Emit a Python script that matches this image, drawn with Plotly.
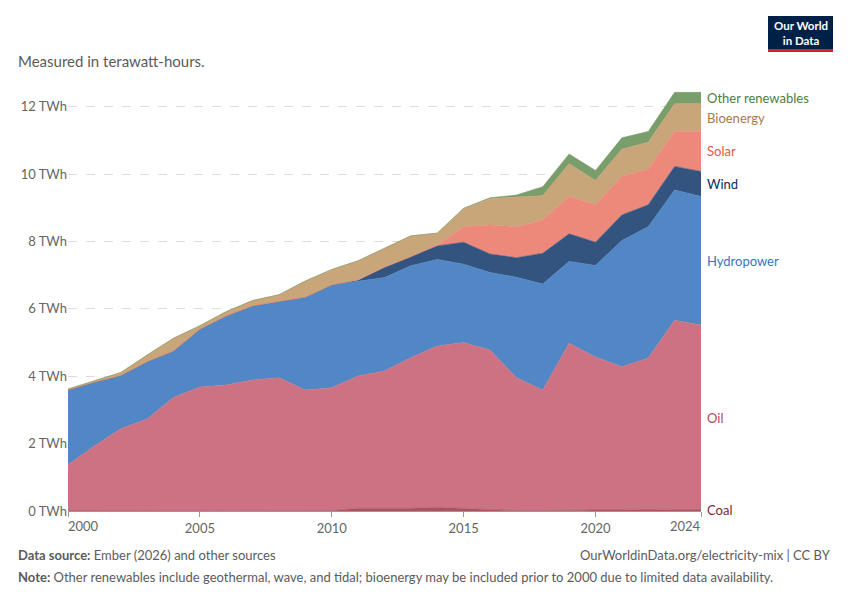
import plotly.graph_objects as go

years = list(range(2000, 2025))
coal = [0, 0, 0, 0, 0, 0, 0, 0, 0, 0, 0.01, 0.08, 0.08, 0.08, 0.11, 0.08, 0.03, 0.01, 0.01, 0.03, 0.03, 0.03, 0.05, 0.03, 0.03]
oil = [1.37, 1.93, 2.44, 2.73, 3.37, 3.68, 3.74, 3.89, 3.96, 3.59, 3.65, 3.93, 4.08, 4.47, 4.79, 4.92, 4.75, 3.95, 3.58, 4.95, 4.54, 4.25, 4.49, 5.63, 5.49]
hydro = [2.22, 1.89, 1.58, 1.70, 1.38, 1.72, 2.05, 2.20, 2.26, 2.76, 3.05, 2.80, 2.77, 2.73, 2.57, 2.33, 2.30, 2.98, 3.15, 2.43, 2.72, 3.75, 3.90, 3.87, 3.82]
wind = [0, 0, 0, 0, 0, 0, 0, 0, 0, 0, 0, 0.05, 0.31, 0.27, 0.40, 0.65, 0.55, 0.58, 0.91, 0.82, 0.69, 0.76, 0.65, 0.70, 0.74]
solar = [0, 0, 0, 0, 0, 0, 0, 0, 0, 0, 0, 0, 0, 0, 0.03, 0.46, 0.86, 0.92, 0.99, 1.11, 1.11, 1.15, 1.06, 1.04, 1.19]
bio = [0.03, 0.05, 0.09, 0.20, 0.38, 0.10, 0.13, 0.16, 0.20, 0.48, 0.46, 0.57, 0.56, 0.62, 0.35, 0.53, 0.79, 0.88, 0.72, 0.97, 0.72, 0.80, 0.80, 0.82, 0.82]
other = [0, 0, 0, 0, 0, 0, 0, 0, 0, 0, 0, 0, 0, 0, 0, 0.02, 0.02, 0.06, 0.27, 0.29, 0.30, 0.34, 0.32, 0.34, 0.34]

y_ticks = [0, 2, 4, 6, 8, 10, 12]
y_tick_labels = ["0 TWh", "2 TWh", "4 TWh", "6 TWh", "8 TWh", "10 TWh", "12 TWh"]
x_ticks = [2000, 2005, 2010, 2015, 2020, 2024]

series = [
    ("Coal", coal, "#a85560", "#7b2a33"),
    ("Oil", oil, "#cc7282", "#b4495c"),
    ("Hydropower", hydro, "#5287c6", "#3a73c0"),
    ("Wind", wind, "#33547f", "#0b2d5c"),
    ("Solar", solar, "#ec897a", "#e0584a"),
    ("Bioenergy", bio, "#c9a57a", "#a8794a"),
    ("Other renewables", other, "#7a9e6b", "#4e7e3e"),
]

# page body has an 8px margin; work in window pixels and offset
OFF = 8
W, H = 850 - OFF, 600 - OFF
L, R, T, B = 68 - OFF, 701 - OFF, 90 - OFF, 511 - OFF


def px(x):
    return (x - OFF - L) / (R - L)


def py(y):
    return (B - (y - OFF)) / (B - T)


fig = go.Figure()
for name, vals, fill, _ in series:
    fig.add_trace(go.Scatter(
        x=years, y=vals, name=name, stackgroup="one", mode="lines",
        line=dict(width=0.6, color=fill), fillcolor=fill, hoverinfo="skip",
    ))

annotations = []
cum = 0.0
for name, vals, fill, lab in series:
    mid = cum + vals[-1] / 2
    cum += vals[-1]
    annotations.append(dict(
        x=years[-1], y=mid, xref="x", yref="y", text=name, showarrow=False,
        xanchor="left", yanchor="middle", xshift=4,
        font=dict(family="Lato", size=13, color=lab),
    ))

annotations.append(dict(x=x_ticks[0], y=0, xref="x", yref="y", text=str(x_ticks[0]),
                        showarrow=False, xanchor="left", yanchor="top", yshift=-5, xshift=-2,
                        font=dict(family="Lato", size=13, color="#666")))
annotations.append(dict(x=x_ticks[-1], y=0, xref="x", yref="y", text=str(x_ticks[-1]),
                        showarrow=False, xanchor="right", yanchor="top", yshift=-5, xshift=2,
                        font=dict(family="Lato", size=13, color="#666")))

annotations += [
    dict(x=px(16), y=py(61), xref="paper", yref="paper", text="Measured in terawatt-hours.",
         showarrow=False, xanchor="left", yanchor="middle",
         font=dict(family="Lato", size=15, color="#5b5b5b")),
    dict(x=px(16), y=py(555), xref="paper", yref="paper",
         text="<b>Data source:</b> Ember (2026) and other sources",
         showarrow=False, xanchor="left", yanchor="middle",
         font=dict(family="Lato", size=13, color="#5b5b5b")),
    dict(x=px(833), y=py(555), xref="paper", yref="paper",
         text="OurWorldinData.org/electricity-mix | CC BY",
         showarrow=False, xanchor="right", yanchor="middle",
         font=dict(family="Lato", size=13, color="#5b5b5b")),
    dict(x=px(16), y=py(577), xref="paper", yref="paper",
         text="<b>Note:</b> Other renewables include geothermal, wave, and tidal; bioenergy may be included prior to 2000 due to limited data availability.",
         showarrow=False, xanchor="left", yanchor="middle",
         font=dict(family="Lato", size=13, color="#5b5b5b")),
    dict(x=px(800.5), y=py(33), xref="paper", yref="paper",
         text="<b>Our World<br>in Data</b>", showarrow=False,
         xanchor="center", yanchor="middle", align="center",
         font=dict(family="Lato", size=11.5, color="white")),
]

shapes = [
    dict(type="rect", xref="paper", yref="paper", x0=px(768), x1=px(833), y0=py(52), y1=py(16),
         fillcolor="#002147", line=dict(width=0), layer="above"),
    dict(type="rect", xref="paper", yref="paper", x0=px(768), x1=px(833), y0=py(52), y1=py(49),
         fillcolor="#ce261e", line=dict(width=0), layer="above"),
]

fig.update_layout(
    width=W, height=H,
    margin=dict(l=L, r=W - R, t=T, b=H - B),
    paper_bgcolor="white", plot_bgcolor="white",
    showlegend=False,
    font=dict(family="Lato", color="#666"),
    annotations=annotations, shapes=shapes,
    xaxis=dict(
        range=[2000, 2024], tickvals=x_ticks,
        ticktext=[""] + [str(v) for v in x_ticks[1:-1]] + [""],
        ticks="outside", ticklen=5, tickcolor="#999", showgrid=False,
        showline=True, linecolor="#999", linewidth=1,
        tickfont=dict(family="Lato", size=13, color="#666"), zeroline=False,
    ),
    yaxis=dict(
        range=[0, 12.5], tickvals=y_ticks, ticktext=y_tick_labels,
        showgrid=True, gridcolor="#dddddd", griddash="dash", gridwidth=1,
        zeroline=False, showline=False, ticks="",
        tickfont=dict(family="Lato", size=13, color="#666"),
    ),
)

fig.write_html("out.html")
